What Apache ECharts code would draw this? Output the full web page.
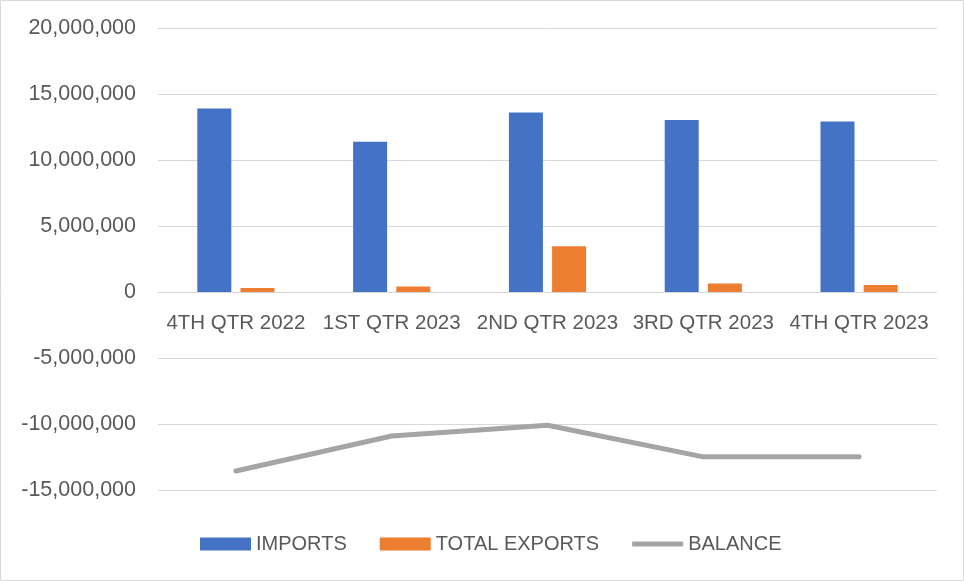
<!DOCTYPE html>
<html>
<head>
<meta charset="utf-8">
<script src="https://cdn.jsdelivr.net/npm/echarts@6/dist/echarts.min.js"></script>
<style>
  html, body { margin: 0; padding: 0; background: #fff; }
  #chart { width: 964px; height: 581px; }
</style>
</head>
<body>
<div id="chart"></div>
<script>
const quarters = ['4TH QTR 2022', '1ST QTR 2023', '2ND QTR 2023', '3RD QTR 2023', '4TH QTR 2023']
const imports = [13900000, 11390000, 13600000, 13030000, 12910000]
const totalExports = [300000, 410000, 3460000, 640000, 530000]
const balance = [-13560000, -10910000, -10100000, -12490000, -12490000]

const textColor = '#595959'
const font = 'Liberation Sans'

// grid box, and where zero sits inside it
const gridTop = 28
const gridBottom = 91
const plotHeight = 581 - gridTop - gridBottom
const yMin = -15000000
const yMax = 20000000
const zeroOffset = -plotHeight * (0 - yMin) / (yMax - yMin)

const chart = echarts.init(document.getElementById('chart'))

const option = {
  animation: false,
  textStyle: { fontFamily: font },
  graphic: [
    {
      type: 'rect',
      z: -10,
      shape: { x: 0.5, y: 0.5, width: 963, height: 580 },
      style: { fill: 'none', stroke: '#d9d9d9', lineWidth: 1 }
    }
  ],
  grid: {
    left: 158,
    right: 27,
    top: gridTop,
    bottom: gridBottom
  },
  legend: {
    top: 529,
    left: 195,
    itemWidth: 51,
    itemHeight: 13,
    itemGap: 33,
    textStyle: { color: textColor, fontSize: 20, fontFamily: font },
    data: [
      { name: 'IMPORTS', icon: 'rect' },
      { name: 'TOTAL EXPORTS', icon: 'rect' },
      {
        name: 'BALANCE',
        // thick grey line, no marker
        icon: 'path://M0,0 M51,13 M0,4 L51,4 L51,9 L0,9 Z',
        itemStyle: { color: '#a5a5a5' }
      }
    ]
  },
  xAxis: {
    type: 'category',
    data: quarters,
    offset: zeroOffset,
    axisTick: { show: false },
    axisLine: { onZero: false, lineStyle: { color: '#d9d9d9', width: 1 } },
    axisLabel: { color: textColor, fontSize: 20.5, margin: 21, interval: 0, fontFamily: font }
  },
  yAxis: {
    type: 'value',
    min: yMin,
    max: yMax,
    interval: 5000000,
    axisLabel: {
      color: textColor,
      fontSize: 21.5,
      margin: 22,
      fontFamily: font,
      formatter: v => v.toLocaleString('en-US')
    },
    splitLine: { lineStyle: { color: '#d9d9d9', width: 1 } }
  },
  series: [
    {
      name: 'IMPORTS',
      type: 'bar',
      data: imports,
      barWidth: 34,
      barGap: '27%',
      itemStyle: { color: '#4472c4' }
    },
    {
      name: 'TOTAL EXPORTS',
      type: 'bar',
      data: totalExports,
      barWidth: 34,
      itemStyle: { color: '#ed7d31' }
    },
    {
      name: 'BALANCE',
      type: 'line',
      data: balance,
      symbol: 'none',
      itemStyle: { color: '#a5a5a5' },
      lineStyle: { color: '#a5a5a5', width: 5, cap: 'round', join: 'round' }
    }
  ]
}

chart.setOption(option)
</script>
</body>
</html>
